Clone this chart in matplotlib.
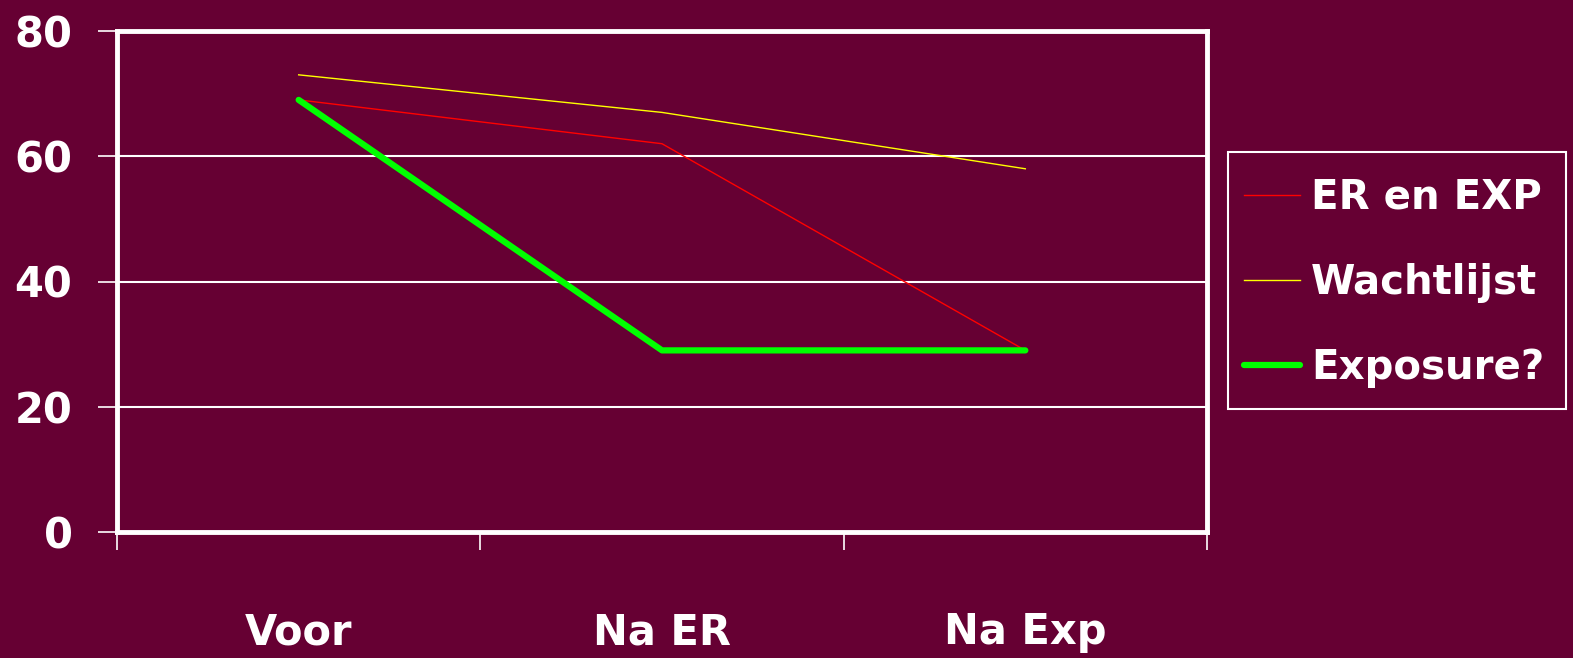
import matplotlib
matplotlib.use("Agg")
import matplotlib.pyplot as plt
from matplotlib.patches import Rectangle

categories = ["Voor", "Na ER", "Na Exp"]
er_en_exp = [69, 62, 29]
wachtlijst = [73, 67, 58]
exposure = [69, 29, 29]
y_ticks = [0, 20, 40, 60, 80]

BG = "#660033"
W, H = 1573, 658
plt.rcParams["font.family"] = ["DejaVu Sans"]
plt.rcParams["font.weight"] = "bold"

fig = plt.figure(figsize=(W / 100, H / 100), dpi=100, facecolor=BG)
ax = fig.add_axes([117 / W, 1 - 532 / H, (1207 - 117) / W, (532 - 31) / H])
ax.set_facecolor(BG)

x = [i + 0.5 for i in range(len(categories))]
ax.plot(x, er_en_exp, color="#FF0000", lw=1.0, label="ER en EXP")
ax.plot(x, wachtlijst, color="#FFFF00", lw=1.0, label="Wachtlijst")
ax.plot(x, exposure, color="#00FF00", lw=4.5, solid_capstyle="round",
        solid_joinstyle="round", label="Exposure?")

ax.set_xlim(0, len(categories))
ax.set_ylim(0, 80)
ax.set_yticks(y_ticks)
ax.set_yticklabels([str(v) for v in y_ticks])
ax.grid(axis="y", color="white", lw=1.5)
ax.set_axisbelow(True)

# category boundaries get the visible ticks, labels sit between them
ax.set_xticks(range(len(categories) + 1))
ax.set_xticklabels([""] * (len(categories) + 1))
ax.set_xticks(x, minor=True)
ax.set_xticklabels(categories, minor=True)
ax.tick_params(axis="x", which="major", length=13, width=1.2, color="white", direction="out")
ax.tick_params(axis="x", which="minor", length=0, pad=57, labelsize=30, labelcolor="white")
ax.tick_params(axis="y", length=14, width=1.2, color="white", pad=18,
               labelsize=30, labelcolor="white")

for s in ax.spines.values():
    s.set_color("white")
    s.set_linewidth(3.5)

# legend box drawn separately so its size is independent of the text metrics
fig.patches.append(Rectangle((1228 / W, 1 - 409 / H), (1566 - 1228) / W, (409 - 152) / H,
                             transform=fig.transFigure, facecolor=BG,
                             edgecolor="white", lw=1.5, zorder=1))
leg = fig.legend(loc="center left", bbox_to_anchor=(1244 / W, 1 - 283 / H),
                 frameon=False, fontsize=29, handlelength=1.4, handletextpad=0.27,
                 labelspacing=1.12, borderpad=0, borderaxespad=0)
for t in leg.get_texts():
    t.set_color("white")

fig.savefig("out.png", dpi=100, facecolor=BG)
